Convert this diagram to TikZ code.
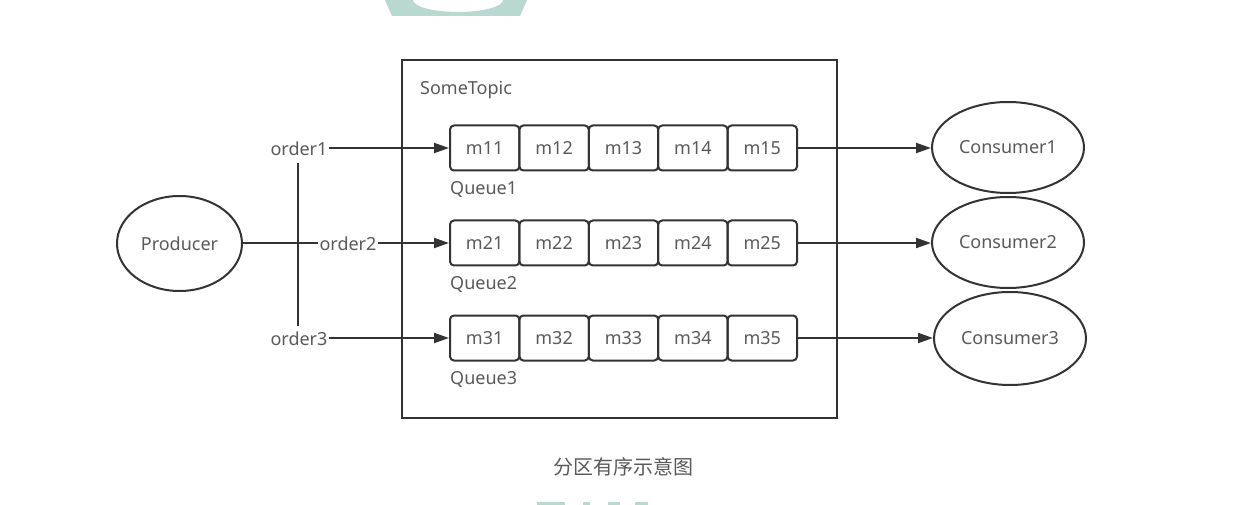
\documentclass[tikz,border=0pt]{standalone}
\usepackage{fontspec}
\setmainfont{Noto Sans}
\newfontfamily\cjkfont{Noto Sans CJK SC}
\usetikzlibrary{arrows.meta,shapes.geometric}
\definecolor{linec}{HTML}{333333}
\definecolor{textc}{HTML}{5A5A5A}
\definecolor{wmark}{HTML}{B8D8D0}
\begin{document}
\begin{tikzpicture}[x=1pt,y=-1pt,
  every node/.style={font=\fontsize{18}{20}\selectfont, text=textc},
  cell/.style={draw=linec, line width=2pt, rounded corners=4pt, minimum width=69.4pt, minimum height=45pt, inner sep=0pt},
  oval/.style={draw=linec, line width=2pt, ellipse, inner sep=0pt},
  lbl/.style={inner sep=1pt},
  conn/.style={draw=linec, line width=2pt},
  arr/.style={conn, -{Triangle[length=15pt,width=10pt]}}
]
\useasboundingbox (0,0) rectangle (1259,505);
\fill[white] (0,0) rectangle (1259,505);
% watermark fragments
\fill[wmark, even odd rule] (385,0) -- (527,0) -- (520,16) -- (392,16) -- cycle
  (413,0) arc[start angle=180, end angle=360, x radius=45pt, y radius=12pt] -- cycle;
\fill[wmark] (537,502) rectangle (565,505);
\fill[wmark] (583,502) rectangle (590,505);
\fill[wmark] (608,502) rectangle (620,505);
\fill[wmark] (635,502) rectangle (648,505);

% topic box
\node[draw=linec, line width=2pt, minimum width=435pt, minimum height=358pt, inner sep=0pt] (topic) at (619.5,239) {};
\node[lbl, anchor=west] (topiclbl) at (419,90) {SomeTopic};

% queues
\foreach \r/\y in {1/148,2/243,3/338}{
  \foreach \c in {1,...,5}{
    \node[cell] (q\r\c) at ({450+34.7+69.4*(\c-1)},\y) {m\r\c};
  }
  \node[lbl, anchor=west] (ql\r) at (449,\y+42) {Queue\r};
}

% producer and consumers
\node[oval, minimum width=125pt, minimum height=95pt] (prod) at (179.5,243.5) {Producer};
\node[oval, minimum width=152pt, minimum height=91pt] (c1) at (1008,147.5) {Consumer1};
\node[oval, minimum width=152pt, minimum height=91pt] (c2) at (1008,242.5) {Consumer2};
\node[oval, minimum width=152pt, minimum height=93pt] (c3) at (1010,338.5) {Consumer3};

% order labels
\node[lbl] (o1) at (299,149) {order1};
\node[lbl] (o2) at (348,244) {order2};
\node[lbl] (o3) at (299,339) {order3};
\coordinate (vtop) at (298,163);
\coordinate (vbot) at (298,326);

\draw[conn] (prod.east) -- (prod.east -| o2.west);
\draw[conn] (vtop) -- (vbot);
\draw[arr] (o1.east |- q11.west) -- (q11.west);
\draw[arr] (o2.east |- q21.west) -- (q21.west);
\draw[arr] (o3.east |- q31.west) -- (q31.west);
\draw[arr] (q15.east) -- (q15.east -| c1.west);
\draw[arr] (q25.east) -- (q25.east -| c2.west);
\draw[arr] (q35.east) -- (q35.east -| c3.west);

% caption
\node[font=\cjkfont\fontsize{20}{22}\selectfont, text=textc] (cap) at (623,467) {分区有序示意图};
\end{tikzpicture}
\end{document}
